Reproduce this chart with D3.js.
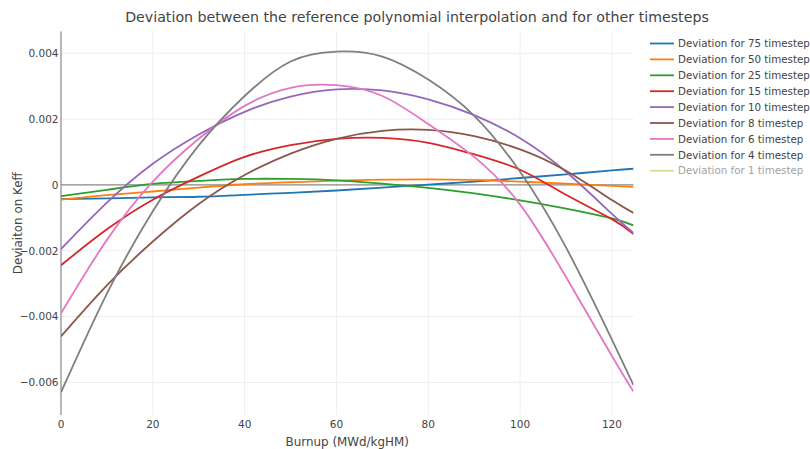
<!DOCTYPE html>
<html>
<head>
<meta charset="utf-8">
<script src="https://cdn.jsdelivr.net/npm/d3@7"></script>
<style>
  body { margin: 0; background: #fff; }
  text { font-family: "DejaVu Sans", Verdana, sans-serif; fill: #444; }
</style>
</head>
<body>
<svg id="chart" width="810" height="449"></svg>
<script>
// burnup grid (MWd/kgHM) the deviations were read at
const burnup = [0, 10, 20, 30, 40, 50, 60, 70, 80, 90, 100, 110, 120, 124.7];

const dev75 = [-0.00043, -0.00041, -0.00038, -0.00036, -0.0003, -0.00024, -0.00017, -0.00008, 0.00001, 0.0001, 0.00021, 0.00032, 0.00044, 0.00049];
const dev50 = [-0.00045, -0.00031, -0.0002, -0.00008, 0.00002, 0.00008, 0.00013, 0.00016, 0.00017, 0.00015, 0.0001, 0.00004, -0.00003, -0.00006];
const dev25 = [-0.00034, -0.00015, 0.00003, 0.00012, 0.00018, 0.00018, 0.00014, 0.00004, -0.00009, -0.00026, -0.00047, -0.00072, -0.00102, -0.00123];
const dev15 = [-0.00244, -0.00135, -0.00045, 0.00025, 0.00085, 0.00121, 0.0014, 0.00143, 0.00128, 0.00093, 0.00046, -0.0003, -0.00104, -0.00149];
const dev10 = [-0.00195, -0.00054, 0.00064, 0.00153, 0.00222, 0.00268, 0.0029, 0.00287, 0.0026, 0.00212, 0.00142, 0.0004, -0.00088, -0.00146];
const dev8 = [-0.0046, -0.00305, -0.00172, -0.00058, 0.0003, 0.00095, 0.0014, 0.00164, 0.00167, 0.00148, 0.00108, 0.00043, -0.00046, -0.00085];
const dev6 = [-0.0039, -0.00167, 0.0001, 0.0014, 0.0024, 0.00295, 0.00303, 0.0027, 0.00185, 0.00085, -0.0006, -0.0028, -0.0052, -0.00628];
const dev4 = [-0.0063, -0.0033, -0.0008, 0.0012, 0.0027, 0.00375, 0.00405, 0.0039, 0.0032, 0.0021, 0.0004, -0.0019, -0.0047, -0.00608];
const dev1 = []; // hidden in the legend (legendonly)

const seriesNames = [
  'Deviation for 75 timestep', 'Deviation for 50 timestep', 'Deviation for 25 timestep',
  'Deviation for 15 timestep', 'Deviation for 10 timestep', 'Deviation for 8 timestep',
  'Deviation for 6 timestep', 'Deviation for 4 timestep', 'Deviation for 1 timestep',
];
const seriesValues = [dev75, dev50, dev25, dev15, dev10, dev8, dev6, dev4, dev1];
const seriesVisible = [true, true, true, true, true, true, true, true, false];

const xTicks = [0, 20, 40, 60, 80, 100, 120];
const yTicks = [-0.006, -0.004, -0.002, 0, 0.002, 0.004];

const colors = ['#1f77b4', '#ff7f0e', '#2ca02c', '#d62728', '#9467bd', '#8c564b', '#e377c2', '#7f7f7f', '#bcbd22'];

const svg = d3.select('#chart');
const plot = { left: 61, right: 633.5, top: 31.5, bottom: 415 };

const x = d3.scaleLinear()
  .domain([0, 124.7])
  .range([plot.left, plot.right]);

const y = d3.scaleLinear()
  .domain([-0.00699, 0.00466])
  .range([plot.bottom, plot.top]);

const fmt = v => v === 0 ? '0' : d3.format('.3f')(v).replace('-', '\u2212');

// grid
svg.append('g')
  .selectAll('line.gx')
  .data(xTicks.filter(d => d !== 0))
  .join('line')
  .attr('x1', d => x(d)).attr('x2', d => x(d))
  .attr('y1', plot.top).attr('y2', plot.bottom)
  .attr('stroke', '#eee').attr('stroke-width', 1);

svg.append('g')
  .selectAll('line.gy')
  .data(yTicks.filter(d => d !== 0))
  .join('line')
  .attr('x1', plot.left).attr('x2', plot.right)
  .attr('y1', d => y(d)).attr('y2', d => y(d))
  .attr('stroke', '#eee').attr('stroke-width', 1);

// zero lines
svg.append('line')
  .attr('x1', plot.left).attr('x2', plot.right)
  .attr('y1', y(0)).attr('y2', y(0))
  .attr('stroke', '#888').attr('stroke-width', 1.2);
svg.append('line')
  .attr('x1', x(0)).attr('x2', x(0))
  .attr('y1', plot.top).attr('y2', plot.bottom)
  .attr('stroke', '#888').attr('stroke-width', 1.2);

// tick labels
svg.append('g')
  .selectAll('text')
  .data(xTicks)
  .join('text')
  .attr('x', d => x(d))
  .attr('y', 428)
  .attr('text-anchor', 'middle')
  .style('font-size', '10.5px')
  .text(d => d);

svg.append('g')
  .selectAll('text')
  .data(yTicks)
  .join('text')
  .attr('x', 58.5)
  .attr('y', d => y(d))
  .attr('dy', '0.36em')
  .attr('text-anchor', 'end')
  .style('font-size', '10.5px')
  .text(fmt);

// curves
const line = d3.line()
  .x(d => x(d[0]))
  .y(d => y(d[1]))
  .curve(d3.curveNatural);

svg.append('defs').append('clipPath').attr('id', 'clip')
  .append('rect')
  .attr('x', plot.left).attr('y', plot.top)
  .attr('width', plot.right - plot.left).attr('height', plot.bottom - plot.top);

svg.append('g')
  .attr('clip-path', 'url(#clip)')
  .selectAll('path')
  .data(seriesValues.map((vals, i) => ({ i, pts: vals.map((v, j) => [burnup[j], v]) }))
    .filter(d => seriesVisible[d.i] && d.pts.length))
  .join('path')
  .attr('d', d => line(d.pts))
  .attr('fill', 'none')
  .attr('stroke', d => colors[d.i])
  .attr('stroke-width', 1.8);

// legend
const legend = svg.append('g')
  .attr('transform', 'translate(650, 43.5)');

const item = legend.selectAll('g')
  .data(seriesNames)
  .join('g')
  .attr('transform', (d, i) => `translate(0, ${i * 15.9})`)
  .attr('opacity', (d, i) => seriesVisible[i] ? 1 : 0.5);

item.append('line')
  .attr('x1', 0).attr('x2', 24)
  .attr('stroke', (d, i) => colors[i])
  .attr('stroke-width', 1.8);

item.append('text')
  .attr('x', 28)
  .attr('dy', '0.36em')
  .style('font-size', '10.3px')
  .text(d => d);

// titles
svg.append('text')
  .attr('x', 417)
  .attr('y', 21.5)
  .attr('text-anchor', 'middle')
  .style('font-size', '14.2px')
  .text('Deviation between the reference polynomial interpolation and for other timesteps');

svg.append('text')
  .attr('x', (plot.left + plot.right) / 2)
  .attr('y', 446)
  .attr('text-anchor', 'middle')
  .style('font-size', '11.9px')
  .text('Burnup (MWd/kgHM)');

svg.append('text')
  .attr('transform', `translate(22, ${(plot.top + plot.bottom) / 2}) rotate(-90)`)
  .attr('text-anchor', 'middle')
  .style('font-size', '11.9px')
  .text('Deviaiton on Keff');
</script>
</body>
</html>
